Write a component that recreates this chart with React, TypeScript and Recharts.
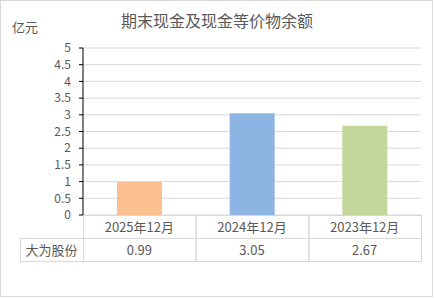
import React from 'react';
import { BarChart, Bar, XAxis, YAxis, CartesianGrid, Cell } from 'recharts';

const categories = ['2025年12月', '2024年12月', '2023年12月'];
const values = [0.99, 3.05, 2.67];
const yTicks = [0, 0.5, 1, 1.5, 2, 2.5, 3, 3.5, 4, 4.5, 5];
const seriesName = '大为股份';
const barColors = ['#FAC090', '#8EB4E3', '#C3D69B'];

const W = 434;
const H = 298;
const PLOT_LEFT = 83;
const PLOT_RIGHT = 421;
const PLOT_BOTTOM = 215;
const ROW_H = 23;
const COL_W = (PLOT_RIGHT - PLOT_LEFT) / categories.length;
const FONT = '"Noto Sans CJK SC", "Microsoft YaHei", sans-serif';
const TEXT = '#595959';
const GRID = '#D9D9D9';

const data = categories.map((c, i) => ({ name: c, value: values[i] }));

function TableTick(props: any) {
    const { x, payload, index } = props;
    const left = x - COL_W / 2;
    return (
        <g>
            {index === 0 && (
                <g>
                    <rect x={20.5} y={PLOT_BOTTOM + ROW_H + 0.5} width={left - 20.5 + 0.5} height={ROW_H} fill="none" stroke={GRID} />
                    <text x={(20 + left) / 2} y={PLOT_BOTTOM + ROW_H * 1.5 + 5} textAnchor="middle" fontSize={13} fill={TEXT} fontFamily={FONT}>
                        {seriesName}
                    </text>
                </g>
            )}
            <rect x={left + 0.5} y={PLOT_BOTTOM + 0.5} width={COL_W} height={ROW_H} fill="none" stroke={GRID} />
            <rect x={left + 0.5} y={PLOT_BOTTOM + ROW_H + 0.5} width={COL_W} height={ROW_H} fill="none" stroke={GRID} />
            <text x={x} y={PLOT_BOTTOM + ROW_H / 2 + 5} textAnchor="middle" fontSize={13} fill={TEXT} fontFamily={FONT}>
                {payload.value}
            </text>
            <text x={x} y={PLOT_BOTTOM + ROW_H * 1.5 + 5} textAnchor="middle" fontSize={13} fill={TEXT} fontFamily={FONT}>
                {values[index].toFixed(2)}
            </text>
        </g>
    );
}

export default function App() {
    return (
        <div style={{ position: 'absolute', left: 0, top: 0, width: W, height: H, background: '#fff', fontFamily: FONT }}>
            <div style={{ position: 'absolute', left: 0, top: 0, width: 433, height: 297, border: `1px solid ${GRID}`, boxSizing: 'border-box' }} />
            <div style={{ position: 'absolute', left: 0, width: W, top: 9, textAlign: 'center', fontSize: 16, color: TEXT, lineHeight: '22px' }}>
                期末现金及现金等价物余额
            </div>
            <div style={{ position: 'absolute', left: 12, top: 17, fontSize: 13, color: TEXT, lineHeight: '20px' }}>亿元</div>
            <BarChart
                width={W}
                height={H}
                data={data}
                margin={{ top: 48, right: W - PLOT_RIGHT, bottom: H - PLOT_BOTTOM - ROW_H * 2, left: 0 }}
                style={{ position: 'absolute', left: 0, top: 0 }}
            >
                <CartesianGrid vertical={false} stroke={GRID} />
                <XAxis
                    dataKey="name"
                    axisLine={false}
                    tickLine={false}
                    interval={0}
                    height={ROW_H * 2}
                    tick={<TableTick />}
                />
                <YAxis
                    width={PLOT_LEFT}
                    domain={[0, 5]}
                    ticks={yTicks}
                    interval={0}
                    axisLine={{ stroke: '#000' }}
                    tickLine={{ stroke: '#000' }}
                    tickSize={4}
                    tickMargin={8}
                    tick={{ fill: TEXT, fontSize: 12, fontFamily: FONT }}
                />
                <Bar dataKey="value" barSize={45} isAnimationActive={false}>
                    {data.map((d, i) => (
                        <Cell key={d.name} fill={barColors[i]} />
                    ))}
                </Bar>
            </BarChart>
        </div>
    );
}
